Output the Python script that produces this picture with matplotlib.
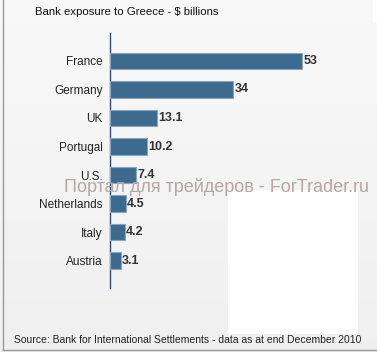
import matplotlib
matplotlib.use("Agg")
import matplotlib.pyplot as plt
import numpy as np
from matplotlib.patches import Rectangle
from matplotlib.lines import Line2D

plt.rcParams["font.family"] = ["Liberation Sans", "DejaVu Sans"]

countries = ["France", "Germany", "UK", "Portugal", "U.S.", "Netherlands", "Italy", "Austria"]
values = [53, 34, 13.1, 10.2, 7.4, 4.5, 4.2, 3.1]
value_labels = ["53", "34", "13.1", "10.2", "7.4", "4.5", "4.2", "3.1"]

W, H = 377, 352
fig = plt.figure(figsize=(W/100, H/100), dpi=100)

# background gradient
bg = fig.add_axes([0, 0, 1, 1], zorder=-10)
grad = np.linspace(0.975, 0.94, 256).reshape(-1, 1)
bg.imshow(np.dstack([grad, grad, grad]), aspect="auto", extent=[0, 1, 0, 1])
bg.set_axis_off()
# white rectangle artifact
bg.add_patch(Rectangle((228/W, 1-334/H), 130/W, 144/H, color="white", lw=0, transform=bg.transAxes))
bg.add_patch(Rectangle((373/W, 1-23/H), 4/W, 23/H, color="white", lw=0, transform=bg.transAxes))
# border lines
fig.add_artist(Line2D([2.5/W, 2.5/W], [1-350/H, 1], color="#999999", lw=1))
fig.add_artist(Line2D([2.5/W, 1], [1-350/H, 1-350/H], color="#999999", lw=1))

ax_left = 109.5/W
ax_right = (109.5 + 70*3.64)/W
ax_top = 1 - 33/H
ax_bot = 1 - 288/H
ax = fig.add_axes([ax_left, ax_bot, ax_right-ax_left, ax_top-ax_bot])
ax.set_facecolor("none")
y = np.arange(len(countries))
ax.barh(y, values, height=0.58, color="#3d6a8f", edgecolor="#8aa6bf", linewidth=0.8, zorder=3)
for yi, v, lab in zip(y, values, value_labels):
    ax.text(v + 0.35, yi, lab, va="center", ha="left", fontsize=9, fontweight="bold", color="#333333")
ax.set_xlim(0, 70)
ax.set_ylim(7.96, -0.98)
ax.set_yticks(y)
ax.set_yticklabels(countries, fontsize=8.5, color="#222222")
ax.tick_params(axis="y", length=0, pad=5)
ax.set_xticks([])
for s in ["top", "right", "bottom"]:
    ax.spines[s].set_visible(False)
ax.spines["left"].set_color("#2f4f6f")
ax.spines["left"].set_linewidth(1)

fig.text(35/W, 1-12/H, "Bank exposure to Greece - $ billions", fontsize=8.2, color="#111111", va="center", ha="left")
fig.text(216/W, 1-187/H, "Портал для трейдеров - ForTrader.ru", fontsize=13, color="#b7a6a6", va="center", ha="center", zorder=20)
fig.text(14/W, 1-340/H, "Source: Bank for International Settlements - data as at end December 2010", fontsize=7.5, color="#222222", va="center", ha="left")

fig.savefig("out.png", dpi=100)
